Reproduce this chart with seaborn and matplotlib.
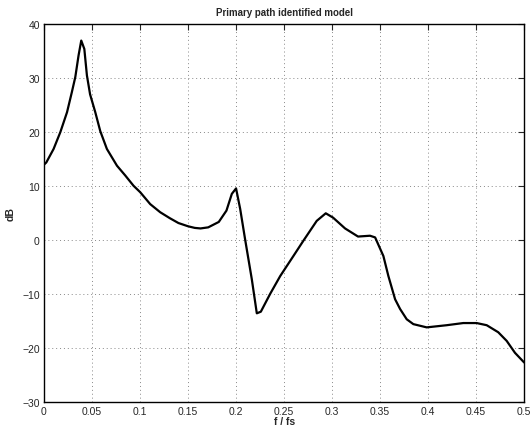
import numpy as np
import pandas as pd
import matplotlib
matplotlib.use("Agg")
import matplotlib.pyplot as plt
import seaborn as sns

# Frequency response
freq = [0.0, 0.0024, 0.010, 0.017, 0.024, 0.029, 0.0326, 0.036, 0.0388, 0.042,
        0.0447, 0.048, 0.0534, 0.0586, 0.0655, 0.076, 0.0846, 0.0932, 0.1002,
        0.1106, 0.121, 0.131, 0.140, 0.150, 0.157, 0.163, 0.171, 0.182, 0.190,
        0.1956, 0.200, 0.2043, 0.2094, 0.2164, 0.2216, 0.2258, 0.2355, 0.246,
        0.2597, 0.270, 0.284, 0.2934, 0.301, 0.3135, 0.327, 0.3395, 0.3448,
        0.3534, 0.3586, 0.3656, 0.3708, 0.3777, 0.3846, 0.3985, 0.4193,
        0.4366, 0.4505, 0.461, 0.473, 0.4818, 0.4904, 0.500]
db = [13.9, 14.3, 16.8, 19.9, 23.6, 27.3, 30.1, 34.1, 36.85, 35.3,
      30.4, 26.9, 23.6, 20.1, 16.8, 13.7, 11.9, 10.0, 8.8,
      6.6, 5.1, 4.0, 3.1, 2.5, 2.2, 2.1, 2.3, 3.3, 5.4,
      8.5, 9.5, 5.7, 0.1, -7.3, -13.6, -13.3, -10.0, -6.7,
      -3.0, -0.2, 3.5, 4.9, 4.1, 2.1, 0.6, 0.75, 0.44,
      -3.0, -6.7, -11.0, -12.8, -14.7, -15.6, -16.2, -15.8,
      -15.4, -15.4, -15.8, -17.1, -18.7, -20.9, -22.7]

x_ticks = [0, 0.05, 0.1, 0.15, 0.2, 0.25, 0.3, 0.35, 0.4, 0.45, 0.5]
x_labels = ["0", "0.05", "0.1", "0.15", "0.2", "0.25", "0.3", "0.35", "0.4", "0.45", "0.5"]
y_ticks = [-30, -20, -10, 0, 10, 20, 30, 40]
y_labels = ["\u221230", "\u221220", "\u221210", "0", "10", "20", "30", "40"]

sns.set_style("white")
plt.rcParams["font.family"] = ["Liberation Sans", "DejaVu Sans"]

df = pd.DataFrame({"f": freq, "dB": db})

fig = plt.figure(figsize=(5.3, 4.35), dpi=100)
ax = fig.add_axes([0.083, 0.0736, 0.906, 0.870])

sns.lineplot(data=df, x="f", y="dB", color="black", linewidth=1.6,
             estimator=None, sort=False, ax=ax)

ax.set_xlim(0, 0.5)
ax.set_ylim(-30, 40)
ax.set_xticks(x_ticks)
ax.set_xticklabels(x_labels)
ax.set_yticks(y_ticks)
ax.set_yticklabels(y_labels)
ax.grid(True, linestyle=(0, (1, 3)), color="#888888", linewidth=0.7)
ax.tick_params(direction="in", length=4, width=0.8, labelsize=7.5,
               top=True, right=True, pad=3)
for side in ax.spines.values():
    side.set_visible(True)
    side.set_color("black")
    side.set_linewidth(1.0)

ax.set_title("Primary path identified model", fontsize=7, fontweight="bold", pad=6)
ax.set_xlabel("f / fs", fontsize=7.5, fontweight="bold", labelpad=0)
ax.set_ylabel("dB", fontsize=7.5, fontweight="bold", labelpad=5)

fig.savefig("out.png", dpi=100)
